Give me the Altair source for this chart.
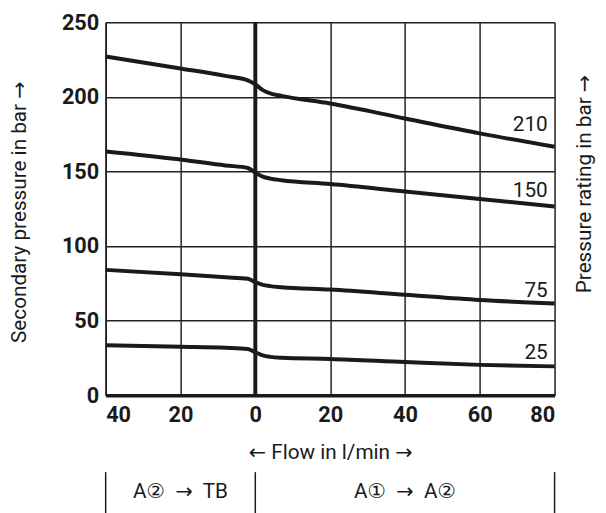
import altair as alt
import pandas as pd

# ---- data ----
flow = [-40, -20, -8, -2, 0, 2, 4, 7, 20, 40, 60, 80]
p210 = [227, 219, 214, 211, 208.3, 204.5, 202.3, 200.6, 195.5, 185.5, 175.5, 166.5]
p150 = [163.4, 158, 154, 152.3, 149.2, 146.5, 145.2, 144.1, 141.5, 136.5, 131.5, 126.5]
p75 = [84, 81, 79, 78, 75.8, 74, 73.1, 72.4, 70.8, 67.3, 63.8, 61.5]
p25 = [33.5, 32.5, 31.8, 31, 28.8, 26.7, 25.7, 25.1, 24.3, 22.2, 20.3, 19.3]
ratings = ["210", "150", "75", "25"]
label_flow = [80, 80, 80, 80]
label_y = [177, 133, 66, 24.3]
x_ticks = [-40, -20, 0, 20, 40, 60, 80]
y_ticks = [0, 50, 100, 150, 200, 250]
sections = ["A②\u00a0 →\u00a0 TB", "A①\u00a0 →\u00a0 A②"]
section_center = [-20, 40]
section_bounds = [-40, 0, 80]

rows = []
for r, vals in zip(ratings, [p210, p150, p75, p25]):
    for f, v in zip(flow, vals):
        rows.append({"rating": r, "flow": f, "pressure": v})
df = pd.DataFrame(rows)
df_lab = pd.DataFrame({"rating": ratings, "flow": label_flow, "pressure": label_y})
df_sec = pd.DataFrame({"flow": section_center, "txt": sections})
df_bnd = pd.DataFrame({"flow": section_bounds})
df_zero = pd.DataFrame({"flow": [0]})
df_rt = pd.DataFrame({"t": ["Pressure rating in bar →"]})

FONT = "Roboto, DejaVu Sans, sans-serif"
INK = "#1a1a1a"
W, H = 455, 378
FS = 21
TFS = 22

xs = alt.Scale(domain=[-40, 80], nice=False, zero=False)
ys = alt.Scale(domain=[0, 250], nice=False)

x_axis = alt.Axis(
    values=x_ticks, labelExpr="abs(datum.value)", ticks=False,
    labelFont=FONT, labelFontWeight="bold", labelFontSize=TFS, labelColor=INK,
    labelPadding=10, domainColor=INK, domainWidth=3.5,
    grid=True, gridColor="#222222", gridWidth=1.5,
    title="← Flow in l/min →", titleFont=FONT, titleFontSize=FS,
    titleFontWeight="normal", titleColor=INK, titleY=58, titleBaseline="middle",
)
y_axis = alt.Axis(
    values=y_ticks, ticks=False,
    labelFont=FONT, labelFontWeight="bold", labelFontSize=TFS, labelColor=INK,
    labelPadding=7, domainColor=INK, domainWidth=1.5,
    grid=True, gridColor="#222222", gridWidth=1.5,
    title="Secondary pressure in bar →", titleFont=FONT, titleFontSize=FS,
    titleFontWeight="normal", titleColor=INK, titleAngle=270,
    titleX=-87, titleY=192, titleBaseline="middle", titleAlign="center",
)

lines = alt.Chart(df).mark_line(interpolate="monotone", strokeWidth=4, color=INK).encode(
    x=alt.X("flow:Q", scale=xs, axis=x_axis),
    y=alt.Y("pressure:Q", scale=ys, axis=y_axis),
    detail="rating:N",
)

zero = alt.Chart(df_zero).mark_rule(strokeWidth=4, color=INK).encode(
    x=alt.X("flow:Q", scale=xs)
)

labels = alt.Chart(df_lab).mark_text(
    align="right", baseline="alphabetic", dx=-7, font=FONT, fontSize=FS, color=INK
).encode(
    x=alt.X("flow:Q", scale=xs),
    y=alt.Y("pressure:Q", scale=ys),
    text="rating:N",
)

right_title = alt.Chart(df_rt).mark_text(
    angle=270, align="center", baseline="middle", font=FONT, fontSize=FS, color=INK
).encode(x=alt.value(W + 31), y=alt.value(164), text="t:N")

seps = alt.Chart(df_bnd).mark_rule(strokeWidth=1.5, color=INK).encode(
    x=alt.X("flow:Q", scale=xs), y=alt.value(456), y2=alt.value(500)
)

sec_text = alt.Chart(df_sec).mark_text(
    align="center", baseline="middle", font=FONT, fontSize=FS, color=INK
).encode(x=alt.X("flow:Q", scale=xs), y=alt.value(476), text="txt:N")

chart = alt.layer(zero, lines, labels, right_title, seps, sec_text).properties(
    width=W, height=H,
    padding={"left": 99, "top": 11, "right": 44, "bottom": 116},
    autosize=alt.AutoSizeParams(type="none"),
).configure_view(stroke=INK, strokeWidth=1.5).configure(background="white")

chart.save("out.html", embed_options={"renderer": "svg", "actions": False})
